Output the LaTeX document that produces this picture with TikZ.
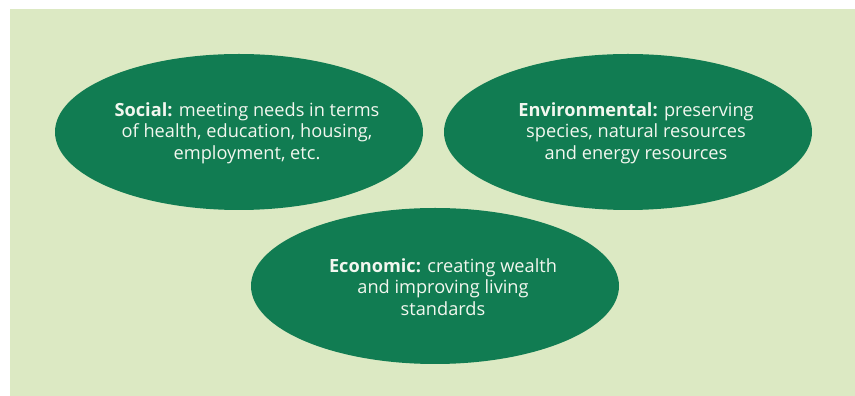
\documentclass[tikz,border=0pt]{standalone}
\usepackage{fontspec}
\setmainfont{Open Sans}
\usetikzlibrary{shapes.geometric}
\definecolor{bgpanel}{HTML}{DCE9C3}
\definecolor{ovalgreen}{HTML}{117C52}
\definecolor{ovaltext}{HTML}{F2F7EF}
\tikzset{
  oval/.style={ellipse, fill=ovalgreen, draw=none, minimum width=368pt, minimum height=156pt, inner sep=0pt},
  ovallabel/.style={text=ovaltext, align=center, font=\fontsize{18.2}{21.7}\selectfont, inner sep=0pt}
}
\begin{document}
\begin{tikzpicture}[x=1pt,y=1pt]
\useasboundingbox (0,0) rectangle (855,396);
\fill[white] (0,0) rectangle (855,396);
\fill[bgpanel] (10,0) rectangle (855,387);
\node[oval] (social) at (239,264) {};
\node[oval] (env) at (628,264) {};
\node[oval] (econ) at (435,110) {};
\node[ovallabel] (socialtxt) at (247,263) {\textbf{Social:} meeting needs in terms\\of health, education, housing,\\employment, etc.};
\node[ovallabel] (envtxt) at (636,263) {\textbf{Environmental:} preserving\\species, natural resources\\and energy resources};
\node[ovallabel] (econtxt) at (443,109) {\textbf{Economic:} creating wealth\\and improving living\\standards};
\end{tikzpicture}
\end{document}
